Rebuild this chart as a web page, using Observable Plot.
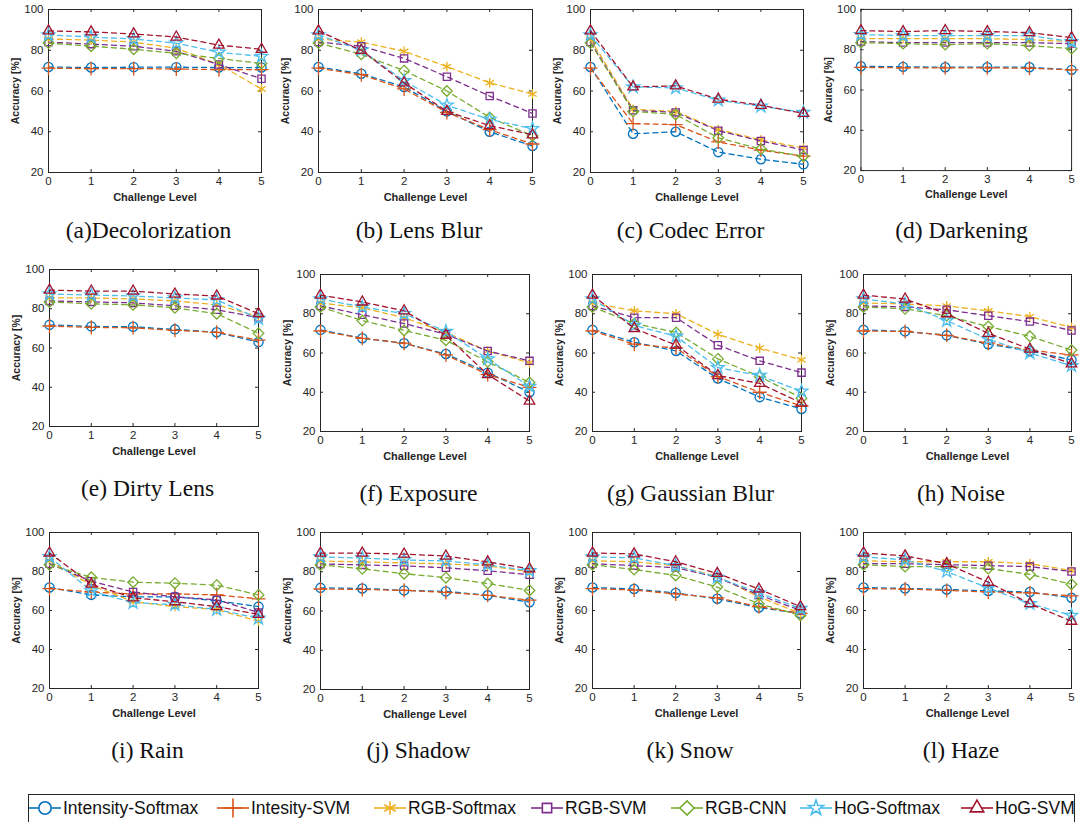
<!DOCTYPE html>
<html>
<head>
<meta charset="utf-8">
<script src="https://cdn.jsdelivr.net/npm/d3@7"></script>
<script src="https://cdn.jsdelivr.net/npm/@observablehq/plot@0.6"></script>
<style>
  html, body { margin: 0; padding: 0; background: #fff; }
  #root { position: relative; width: 1079px; height: 822px; overflow: hidden; background: #fff; }
  .cell { position: absolute; }
  .cap { position: absolute; font-family: "Liberation Serif", "Times New Roman", serif; font-size: 23.5px; color: #111; white-space: nowrap; transform: translate(-50%, -50%); }
  g[aria-label="x-axis label"] text { font-weight: bold; font-size: 11px; }
  g[aria-label="y-axis label"] text { font-weight: bold; font-size: 10.5px; }
  #legend { position: absolute; left: 28px; top: 794px; width: 1047px; height: 32px; border: 1px solid #262626; box-sizing: border-box; background: #fff; }
  .li { position: absolute; top: 0; height: 28px; }
  .lt { position: absolute; top: 3px; font-family: "Liberation Sans", Arial, sans-serif; font-size: 17.5px; color: #111; white-space: nowrap; }
</style>
</head>
<body>
<div id="root"></div>
<script>
// ---------- data ----------
const seriesNames = ["Intensity-Softmax", "Intesity-SVM", "RGB-Softmax", "RGB-SVM", "RGB-CNN", "HoG-Softmax", "HoG-SVM"];
const seriesColors = ["#0072BD", "#D95319", "#EDB120", "#7E2F8E", "#77AC30", "#4DBEEE", "#A2142F"];
const seriesSymbols = ["circle", "plus", "asterisk", "square2", "diamond2", "star", "triangle2"];
const levels = [0, 1, 2, 3, 4, 5];
const yTicks = [20, 40, 60, 80, 100];
const panelTitles = ["(a)Decolorization", "(b) Lens Blur", "(c) Codec Error", "(d) Darkening",
  "(e) Dirty Lens", "(f) Exposure", "(g) Gaussian Blur", "(h) Noise",
  "(i) Rain", "(j) Shadow", "(k) Snow", "(l) Haze"];

// each array: one row per series (order of seriesNames), values at levels 0..5
const decolorization = [
  [71.8, 71.5, 71.7, 71.7, 71.5, 71.5],
  [71.2, 71.0, 71.0, 70.8, 70.5, 70.5],
  [85.5, 85.0, 84.0, 81.0, 73.0, 61.0],
  [84.0, 83.0, 82.0, 79.5, 73.0, 66.0],
  [83.5, 82.0, 80.5, 78.5, 76.0, 73.5],
  [87.5, 86.5, 85.5, 83.5, 79.0, 77.0],
  [89.5, 89.0, 88.0, 86.5, 82.5, 80.5]];
const lensBlur = [
  [71.8, 68.5, 62.0, 50.0, 40.0, 33.0],
  [71.2, 68.0, 61.0, 49.5, 41.0, 34.0],
  [85.5, 84.0, 79.5, 72.0, 64.0, 58.5],
  [84.0, 82.0, 76.0, 67.0, 57.5, 49.0],
  [83.5, 78.0, 70.0, 60.0, 47.0, 38.0],
  [87.5, 80.0, 65.0, 53.0, 46.0, 41.5],
  [89.5, 80.0, 64.0, 50.0, 43.0, 38.5]];
const codecError = [
  [71.8, 39.0, 40.0, 30.0, 26.5, 24.0],
  [71.2, 44.0, 43.5, 35.0, 31.0, 28.0],
  [85.5, 51.0, 50.0, 41.0, 36.0, 32.0],
  [84.0, 50.5, 49.5, 40.5, 35.5, 31.0],
  [83.5, 50.0, 48.5, 37.0, 31.5, 28.0],
  [87.5, 62.0, 61.5, 55.5, 52.5, 49.5],
  [89.5, 62.0, 62.5, 56.0, 53.0, 49.0]];
const darkening = [
  [71.8, 71.5, 71.3, 71.3, 71.3, 70.0],
  [71.2, 71.0, 71.0, 71.0, 70.8, 70.0],
  [85.5, 85.5, 85.5, 85.5, 85.0, 84.0],
  [84.0, 83.5, 83.5, 83.5, 83.5, 83.0],
  [83.5, 83.0, 82.5, 83.0, 82.0, 80.5],
  [87.5, 87.0, 87.0, 87.0, 87.0, 84.0],
  [89.5, 89.0, 89.5, 89.0, 88.5, 86.0]];
const dirtyLens = [
  [71.8, 71.0, 70.8, 69.5, 68.0, 63.0],
  [71.2, 70.5, 70.3, 69.0, 68.0, 64.0],
  [85.5, 85.5, 85.0, 84.0, 82.0, 76.0],
  [84.0, 83.5, 83.0, 81.5, 79.5, 75.5],
  [83.5, 82.5, 82.0, 80.5, 77.5, 67.5],
  [87.5, 87.0, 86.5, 85.5, 84.5, 75.0],
  [89.5, 89.0, 89.0, 87.5, 86.5, 77.5]];
const exposure = [
  [71.8, 67.5, 65.0, 59.5, 50.0, 40.0],
  [71.2, 67.5, 65.0, 59.0, 49.0, 42.5],
  [85.5, 83.0, 78.0, 70.5, 61.0, 55.0],
  [84.0, 79.5, 75.0, 69.5, 61.0, 56.0],
  [83.5, 76.5, 71.5, 66.5, 55.5, 45.0],
  [87.5, 83.5, 80.0, 71.0, 57.0, 43.0],
  [89.5, 86.0, 81.5, 69.0, 49.0, 35.5]];
const gaussianBlur = [
  [71.8, 65.5, 61.0, 47.0, 37.5, 31.5],
  [71.2, 64.5, 62.5, 48.0, 40.0, 33.0],
  [85.5, 81.5, 80.0, 69.5, 62.5, 56.5],
  [84.0, 78.0, 78.0, 64.0, 56.0, 50.0],
  [83.5, 75.0, 70.5, 57.0, 48.0, 37.0],
  [87.5, 74.0, 68.5, 52.5, 48.5, 40.5],
  [89.5, 72.5, 64.0, 48.5, 44.5, 34.5]];
const noise = [
  [71.8, 71.0, 69.0, 64.5, 61.0, 56.5],
  [71.2, 71.0, 69.0, 65.0, 61.5, 59.0],
  [85.5, 85.0, 84.0, 81.5, 78.5, 73.0],
  [84.0, 83.5, 82.0, 79.0, 76.0, 71.5],
  [83.5, 82.5, 79.0, 73.5, 68.5, 61.5],
  [87.5, 85.0, 76.5, 67.0, 60.0, 53.5],
  [89.5, 87.5, 80.0, 70.0, 62.0, 54.5]];
const rain = [
  [71.8, 68.0, 67.0, 67.0, 65.0, 62.0],
  [71.2, 69.5, 68.5, 68.5, 68.0, 66.0],
  [85.5, 73.0, 64.5, 62.0, 60.5, 54.5],
  [84.0, 75.0, 69.5, 67.0, 65.5, 59.0],
  [83.5, 77.0, 74.5, 74.0, 73.0, 68.0],
  [87.5, 70.0, 64.0, 63.0, 60.5, 56.0],
  [89.5, 73.5, 66.5, 64.5, 62.0, 58.0]];
const shadow = [
  [71.8, 71.5, 70.5, 70.0, 68.0, 64.5],
  [71.2, 71.0, 70.5, 69.5, 68.0, 65.5],
  [85.5, 85.0, 84.5, 84.0, 83.0, 80.0],
  [84.0, 83.5, 83.0, 82.0, 80.5, 78.5],
  [83.5, 81.5, 79.0, 77.0, 74.0, 70.5],
  [87.5, 87.0, 86.0, 85.5, 83.5, 80.5],
  [89.5, 89.5, 89.0, 88.0, 85.0, 81.5]];
const snow = [
  [71.8, 71.0, 69.0, 66.0, 61.5, 58.5],
  [71.2, 70.5, 68.5, 66.5, 62.0, 58.5],
  [85.5, 85.0, 83.0, 77.5, 67.0, 58.5],
  [84.0, 83.0, 82.0, 77.0, 68.0, 60.0],
  [83.5, 81.0, 78.0, 72.0, 63.5, 57.5],
  [87.5, 87.0, 83.0, 77.0, 69.0, 61.0],
  [89.5, 89.0, 85.0, 79.0, 71.0, 62.0]];
const haze = [
  [71.8, 71.3, 70.8, 70.0, 69.5, 66.5],
  [71.2, 71.0, 70.3, 69.5, 69.0, 67.5],
  [85.5, 85.0, 85.0, 85.0, 84.0, 80.5],
  [84.0, 84.0, 83.5, 83.0, 82.5, 80.0],
  [83.5, 82.5, 82.5, 81.5, 78.5, 73.5],
  [87.5, 86.0, 80.0, 71.5, 63.5, 57.5],
  [89.5, 88.0, 84.0, 74.5, 63.5, 54.5]];

const panelData = [decolorization, lensBlur, codecError, darkening, dirtyLens, exposure,
  gaussianBlur, noise, rain, shadow, snow, haze];

// ---------- layout (pixel geometry of each plot frame) ----------
const frames = [
  {l: 48, t: 9, w: 213, h: 163, cy: 230}, {l: 318, t: 9, w: 214, h: 163, cy: 230},
  {l: 590, t: 9, w: 213, h: 163, cy: 230}, {l: 861, t: 9, w: 213, h: 163, cy: 230},
  {l: 49, t: 269, w: 209, h: 157, cy: 488}, {l: 320, t: 274, w: 209, h: 157, cy: 493},
  {l: 592, t: 274, w: 209, h: 157, cy: 493}, {l: 863, t: 274, w: 208, h: 157, cy: 493},
  {l: 49, t: 532, w: 209, h: 156, cy: 750}, {l: 320, t: 532, w: 209, h: 157, cy: 750},
  {l: 592, t: 532, w: 208, h: 156, cy: 750}, {l: 863, t: 532, w: 208, h: 156, cy: 750}];

const ML = 48, MR = 8, MT = 8, MB = 34;
const root = document.getElementById("root");
const axisColor = "#262626";
const markerR = [4.6, 4.6, 4.6, 4.6, 4.8, 4.0, 5.0];

panelData.forEach((rows, pi) => {
  const f = frames[pi];
  const table = [];
  rows.forEach((vals, si) => vals.forEach((v, li) => table.push({series: seriesNames[si], level: levels[li], value: v})));
  const marks = [];
  seriesNames.forEach((s, si) => {
    const d = table.filter(r => r.series === s);
    marks.push(Plot.line(d, {x: "level", y: "value", stroke: seriesColors[si], strokeWidth: 1.3, strokeDasharray: "5,4"}));
    marks.push(Plot.dot(d, {x: "level", y: "value", stroke: seriesColors[si], fill: "none", symbol: () => seriesSymbols[si], r: markerR[si], strokeWidth: 1.3}));
  });
  const chart = Plot.plot({
    width: ML + f.w + MR,
    height: MT + f.h + MB,
    marginLeft: ML, marginRight: MR, marginTop: MT, marginBottom: MB,
    style: {fontFamily: "'Liberation Sans', Arial, sans-serif", color: axisColor, background: "transparent"},
    x: {domain: [0, 5]},
    y: {domain: [20, 100]},
    symbol: {type: "identity"},
    marks: [
      Plot.frame({stroke: axisColor, strokeWidth: 1}),
      Plot.tickY(yTicks, {y: d => d, insetRight: f.w - 3, stroke: axisColor}),
      Plot.tickY(yTicks, {y: d => d, insetLeft: f.w - 3, stroke: axisColor}),
      Plot.tickX(levels, {x: d => d, insetTop: f.h - 3, stroke: axisColor}),
      Plot.tickX(levels, {x: d => d, insetBottom: f.h - 3, stroke: axisColor}),
      Plot.axisY({ticks: yTicks, tickFormat: d => String(d), tickSize: 0, tickPadding: 5, fontSize: 11.5, label: "Accuracy [%]", labelAnchor: "center", labelOffset: 37, labelArrow: "none"}),
      Plot.axisX({ticks: levels, tickFormat: d => String(d), tickSize: 0, tickPadding: 4, fontSize: 11.5, label: "Challenge Level", labelAnchor: "center", labelOffset: 28, labelArrow: "none"}),
      ...marks
    ]
  });
  const cell = document.createElement("div");
  cell.className = "cell";
  cell.style.left = (f.l - ML) + "px";
  cell.style.top = (f.t - MT) + "px";
  cell.appendChild(chart);
  root.appendChild(cell);

  const cap = document.createElement("div");
  cap.className = "cap";
  cap.textContent = panelTitles[pi];
  cap.style.left = (f.l + f.w / 2 - 6) + "px";
  cap.style.top = f.cy + "px";
  root.appendChild(cap);
});

// ---------- legend ----------
const legend = document.createElement("div");
legend.id = "legend";
root.appendChild(legend);
const legendMarkerX = [44, 232, 389, 546, 686, 815, 976];
const legendSize = [120, 120, 120, 110, 130, 70, 130];
const symbolMap = {circle: d3.symbolCircle, plus: d3.symbolPlus, asterisk: d3.symbolAsterisk, square2: d3.symbolSquare2, diamond2: d3.symbolDiamond2, star: d3.symbolStar, triangle2: d3.symbolTriangle2};
seriesNames.forEach((s, i) => {
  const cx = legendMarkerX[i] - 28;
  const item = document.createElement("div");
  item.className = "li";
  item.style.left = (cx - 17) + "px";
  const svg = d3.create("svg").attr("width", 34).attr("height", 28);
  svg.append("line").attr("x1", 1).attr("x2", 33).attr("y1", 13).attr("y2", 13).attr("stroke", seriesColors[i]).attr("stroke-width", 1.6);
  svg.append("path").attr("d", d3.symbol(symbolMap[seriesSymbols[i]], legendSize[i])()).attr("transform", "translate(17,13)")
    .attr("fill", "#fff").attr("stroke", seriesColors[i]).attr("stroke-width", 1.6);
  item.appendChild(svg.node());
  legend.appendChild(item);
  const t = document.createElement("div");
  t.className = "lt";
  t.style.left = (cx + 18) + "px";
  t.textContent = s;
  legend.appendChild(t);
});
</script>
</body>
</html>
